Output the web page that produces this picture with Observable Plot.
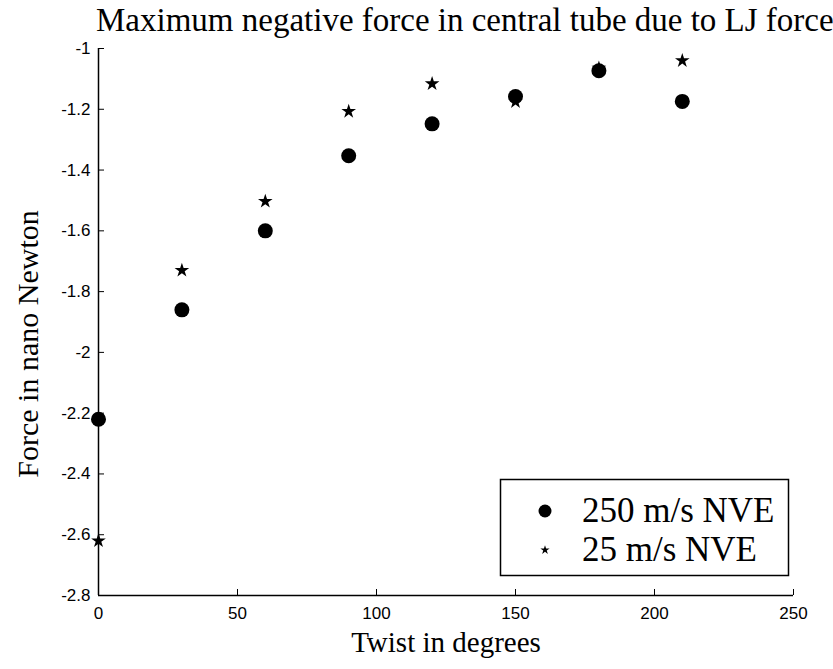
<!DOCTYPE html>
<html><head><meta charset="utf-8">
<script src="https://cdn.jsdelivr.net/npm/d3@7"></script>
<script src="https://cdn.jsdelivr.net/npm/@observablehq/plot@0.6"></script>
<style>
body{margin:0;background:#fff;}
#wrap{position:relative;width:833px;height:669px;overflow:hidden;}
#title{height:40px;width:833px;font:33px "Liberation Serif",serif;white-space:nowrap;color:#000;line-height:40px;padding-left:96px;box-sizing:border-box;}
#legend{position:absolute;left:0;top:0;}
</style></head><body>
<div id="wrap">
<div id="title">Maximum negative force in central tube due to LJ force</div>
<div id="chart"></div>
<svg id="legend" width="833" height="669"></svg>
</div>
<script>
const twist = [0, 30, 60, 90, 120, 150, 180, 210];
const force250 = [-2.22, -1.86, -1.60, -1.353, -1.248, -1.158, -1.073, -1.174];
const force25 = [-2.62, -1.73, -1.503, -1.207, -1.116, -1.175, -1.065, -1.04];
const seriesNames = ["250 m/s NVE", "25 m/s NVE"];
const xTicks = [0, 50, 100, 150, 200, 250];
const yTicks = [-2.8, -2.6, -2.4, -2.2, -2, -1.8, -1.6, -1.4, -1.2, -1];

const data250 = twist.map((t, i) => ({x: t, y: force250[i]}));
const data25 = twist.map((t, i) => ({x: t, y: force25[i]}));

const sans = "Liberation Sans, Arial, sans-serif";
const serif = "Liberation Serif, Times New Roman, serif";

const plot = Plot.plot({
  width: 833,
  height: 629,
  marginTop: 8,
  marginBottom: 74,
  marginLeft: 98,
  marginRight: 40,
  style: {background: "#fff", color: "#000", overflow: "visible"},
  x: {domain: [0, 250]},
  y: {domain: [-2.8, -1]},
  marks: [
    Plot.ruleX([0], {stroke: "#000", strokeWidth: 1.5}),
    Plot.ruleY([-2.8], {stroke: "#000", strokeWidth: 1.5}),
    Plot.axisY({ticks: yTicks, tickSize: -6, tickPadding: 14, tickFormat: d => String(d), fontSize: 17, fontFamily: sans, label: null, stroke: "#000"}),
    Plot.axisX({ticks: xTicks, tickSize: -6, tickPadding: 17, tickFormat: d => String(d), fontSize: 17, fontFamily: sans, label: null, stroke: "#000"}),
    Plot.text(["Twist in degrees"], {frameAnchor: "bottom", dy: 56, fontSize: 29, fontFamily: serif, fill: "#000"}),
    Plot.text(["Force in nano Newton"], {frameAnchor: "left", textAnchor: "middle", dx: -70, dy: 22, rotate: -90, fontSize: 30, fontFamily: serif, fill: "#000"}),
    Plot.dot(data25, {x: "x", y: "y", symbol: "star", r: 4.6, fill: "#000", stroke: "none"}),
    Plot.dot(data250, {x: "x", y: "y", symbol: "circle", r: 7.5, fill: "#000", stroke: "none"})
  ]
});
document.getElementById("chart").appendChild(plot);

// legend
const lg = d3.select("#legend");
lg.append("rect").attr("x", 500.5).attr("y", 479.5).attr("width", 288).attr("height", 96)
  .attr("fill", "#fff").attr("stroke", "#000").attr("stroke-width", 1.5);
lg.append("circle").attr("cx", 545).attr("cy", 511).attr("r", 6.5).attr("fill", "#000");
lg.append("path").attr("d", d3.symbol(d3.symbolStar, Math.PI * 2.9 * 2.9)()).attr("transform", "translate(545,550)").attr("fill", "#000");
lg.selectAll("text.lab").data(seriesNames).join("text").attr("class", "lab")
  .attr("x", 582).attr("y", (d, i) => 522 + i * 39)
  .attr("font-family", serif).attr("font-size", 35).attr("fill", "#000").text(d => d);
</script>
</body></html>
